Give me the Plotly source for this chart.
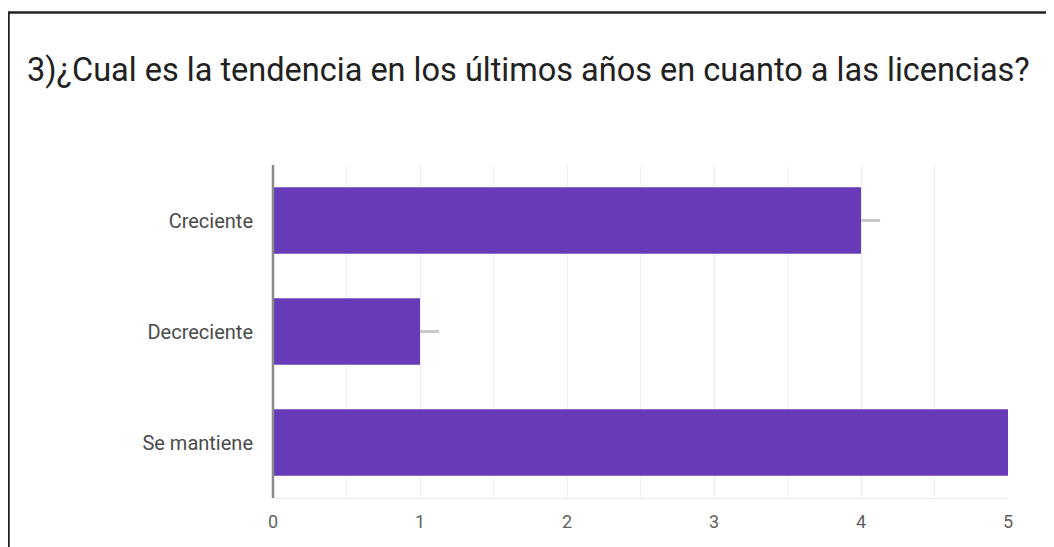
import plotly.graph_objects as go

categories = ["Creciente", "Decreciente", "Se mantiene"]
values = [4, 1, 5]
whisker = [0.13, 0.13, 0]
x_ticks = [0, 1, 2, 3, 4, 5]
title_text = "3)¿Cual es la tendencia en los últimos años en cuanto a las licencias?"

# page body adds an 8px offset; figure drawn at 1046x539
OFF = 8
W, H = 1054 - OFF, 547 - OFF
L, R, T, B = 273 - OFF, 46, 165 - OFF, 49

fig = go.Figure(go.Bar(
    x=values, y=categories, orientation="h",
    marker=dict(color="#673ab7", line=dict(width=0)),
    width=0.6,
    error_x=dict(type="data", symmetric=False, array=whisker,
                 arrayminus=[0] * len(values), width=0, thickness=3,
                 color="#c8c8c8"),
    hoverinfo="x+y",
))

pw, ph = W - L - R, H - T - B
def px_x(p):
    return (p - OFF - L) / pw
def px_y(p):
    return (H - B - (p - OFF)) / ph

fig.update_layout(
    width=W, height=H,
    margin=dict(l=L, r=R, t=T, b=B, autoexpand=False),
    paper_bgcolor="white", plot_bgcolor="white",
    showlegend=False,
    font=dict(family="Roboto, Arial, sans-serif", color="#5f5f5f", size=18),
    title=dict(text=title_text, x=(27 - OFF) / W, xanchor="left", xref="container",
               y=1 - (70 - OFF) / H, yanchor="middle", yref="container",
               font=dict(family="Roboto, Arial, sans-serif", size=32.5, color="#212121")),
    xaxis=dict(range=[0, 5], tickvals=x_ticks, showgrid=True, gridcolor="#ececec",
               gridwidth=1, minor=dict(dtick=0.5, showgrid=True, gridcolor="#f1f1f1"),
               zeroline=False, showline=True, linecolor="#eeeeee", linewidth=1,
               ticks="", tickfont=dict(size=18, color="#5f5f5f"), ticklabelstandoff=7),
    yaxis=dict(autorange="reversed", showgrid=False, zeroline=False,
               showline=False, ticks="", ticklabelstandoff=19,
               tickfont=dict(size=20, color="#4a4a4a")),
    bargap=0.4,
    shapes=[
        dict(type="line", xref="paper", yref="paper", x0=0, x1=0, y0=0, y1=1,
             line=dict(color="#8a8a8a", width=2.5)),
        dict(type="line", xref="paper", yref="paper", x0=px_x(8), x1=px_x(1060),
             y0=px_y(12.5), y1=px_y(12.5), line=dict(color="#222222", width=2.5)),
        dict(type="line", xref="paper", yref="paper", x0=px_x(8.5), x1=px_x(8.5),
             y0=px_y(12), y1=px_y(560), line=dict(color="#222222", width=2.5)),
    ],
)

fig.write_html("out.html")
